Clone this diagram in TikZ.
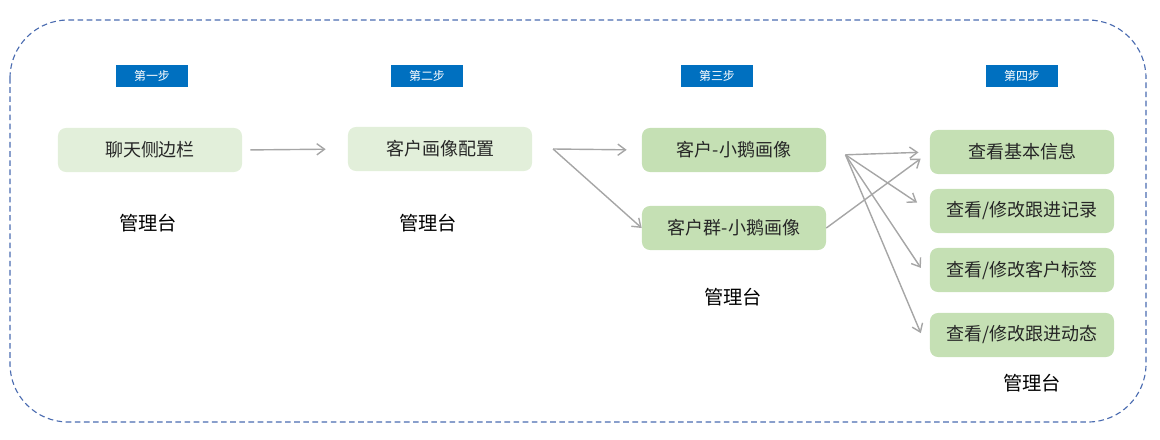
\documentclass[tikz,border=0pt]{standalone}
\usepackage{fontspec}
\newfontfamily\cjk{Noto Sans CJK SC}
\usepackage{tikz}
\usetikzlibrary{arrows.meta, positioning}
\definecolor{stepblue}{HTML}{0070C0}
\definecolor{palegreen}{HTML}{E2EFDA}
\definecolor{midgreen}{HTML}{C5E0B4}
\definecolor{framebl}{HTML}{4A6BB0}
\definecolor{flowgray}{HTML}{A6A6A6}

\begin{document}
\begin{tikzpicture}[x=0.025cm, y=-0.025cm,
    stepbox/.style={fill=stepblue, text=white, minimum width=1.8cm, minimum height=0.55cm, inner sep=0pt, font=\cjk\fontsize{8.5}{10}\selectfont},
    pagebox/.style={rounded corners=0.2cm, minimum width=4.6cm, minimum height=1.1cm, inner sep=0pt, text=black!85, font=\cjk\fontsize{12.8}{15}\selectfont},
    platform/.style={font=\cjk\fontsize{13.7}{16}\selectfont},
    flow/.style={-{Straight Barb[length=5.5pt, width=8pt]}, draw=flowgray, line width=1pt},
]
  \useasboundingbox (0,0) rectangle (1160,440);
  \draw[framebl, dash pattern=on 4pt off 2.5pt, line width=0.8pt, rounded corners=1.45cm] (10,20) rectangle (1146,422);

  % step headers
  \node[stepbox] (s1) at (152,76) {第一步};
  \node[stepbox] (s2) at (427,76) {第二步};
  \node[stepbox] (s3) at (717,76) {第三步};
  \node[stepbox] (s4) at (1022,76) {第四步};

  % pages
  \node[pagebox, fill=palegreen] (ltcb) at (150,150) {聊天侧边栏};
  \node[pagebox, fill=palegreen] (hxpz) at (440,149) {客户画像配置};
  \node[pagebox, fill=midgreen] (khxe) at (734,150) {客户-小鹅画像};
  \node[pagebox, fill=midgreen] (khqxe) at (734,228) {客户群-小鹅画像};
  \node[pagebox, fill=midgreen] (jbxx) at (1022,152) {查看基本信息};
  \node[pagebox, fill=midgreen] (gjjl) at (1022,211) {查看/修改跟进记录};
  \node[pagebox, fill=midgreen] (khbq) at (1022,270) {查看/修改客户标签};
  \node[pagebox, fill=midgreen] (gjdt) at (1022,335) {查看/修改跟进动态};

  \node[platform] (pt1) at (148,223) {管理台};
  \node[platform] (pt2) at (428,223) {管理台};
  \node[platform] (pt3) at (733,297) {管理台};
  \node[platform] (pt4) at (1032,383) {管理台};

  % flows
  \draw[flow, shorten <=0.2cm, shorten >=0.55cm] (ltcb.east) -- (hxpz.west);

  \coordinate (fork2) at ([xshift=0.52cm]hxpz.east);
  \draw[flow, shorten >=0.375cm] (fork2) -- (khxe.west);
  \draw[flow] (fork2) -- (khqxe.west);

  \draw[flow, shorten >=0.28cm] (khqxe.east) -- (jbxx.west);

  \coordinate (fork3) at ([xshift=0.48cm, yshift=-0.12cm]khxe.east);
  \draw[flow, shorten >=0.28cm] (fork3) -- (jbxx.west);
  \draw[flow, shorten >=0.38cm] (fork3) -- (gjjl.west);
  \draw[flow, shorten >=0.4cm] (fork3) -- ([yshift=-0.28cm]khbq.west);
  \draw[flow, shorten >=0.57cm] (fork3) -- ([yshift=-0.48cm]gjdt.west);
\end{tikzpicture}
\end{document}
